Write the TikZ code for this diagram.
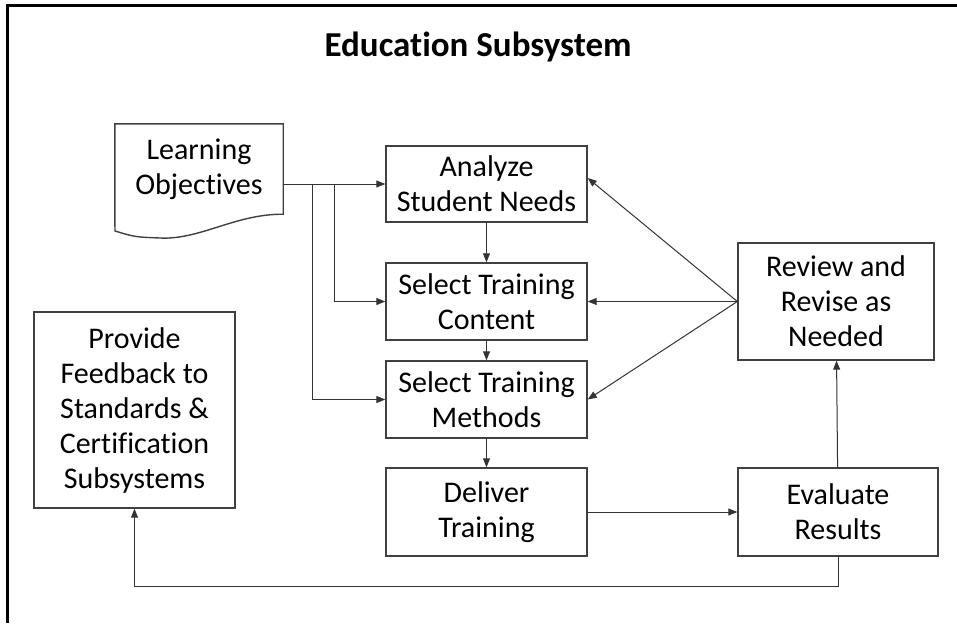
\documentclass[tikz,border=0pt]{standalone}
\usepackage{fontspec}
\setmainfont{Carlito}[Ligatures=CommonOff]
\usetikzlibrary{arrows.meta}

\begin{document}
\begin{tikzpicture}[x=1pt,y=-1pt,
    >={Triangle[length=9pt,width=7pt]},
    box/.style={draw=black!75,line width=1.4pt,inner sep=0pt,align=center,
        font=\fontsize{30}{35}\selectfont},
    link/.style={->,draw=black!80,line width=1pt}]
\useasboundingbox (0,0) rectangle (957,623);
\draw[line width=3pt] (7,623)--(7,6)--(957,6);
\node (title) at (478,47) {\fontsize{35}{42}\selectfont\bfseries Education Subsystem};

% document shape
\node[inner sep=0pt,minimum width=168pt,minimum height=90pt,align=center,
    font=\fontsize{30}{35}\selectfont] (lo) at (199,169) {Learning\\Objectives};
\draw[black!75,line width=1.4pt] (lo.south west)--(lo.north west)--(lo.north east)--(lo.south east)
    .. controls (235,214) and (200,240) .. (160,238)
    .. controls (135,237) .. (115,231) -- (lo.south west);

\node[box,minimum width=201pt,minimum height=76pt] (ana) at (486.5,184) {Analyze\\Student Needs};
\node[box,minimum width=201pt,minimum height=77pt] (con) at (486.5,301.5) {Select Training\\Content};
\node[box,minimum width=201pt,minimum height=77pt] (met) at (486.5,399.5) {Select Training\\Methods};
\node[box,minimum width=201pt,minimum height=88pt] (del) at (486.5,512) {Deliver\\Training};
\node[box,minimum width=196pt,minimum height=117pt] (rev) at (836,301.5) {Review and\\Revise as\\Needed};
\node[box,minimum width=200pt,minimum height=88pt] (eva) at (838,512) {Evaluate\\Results};
\node[box,minimum width=201pt,minimum height=196pt] (fb) at (134.5,410) {Provide\\Feedback to\\Standards \&\\Certification\\Subsystems};

\coordinate (j1) at (312,184);
\coordinate (j2) at (334,184);
\draw[link] (lo.east |- ana.west)--(ana.west);
\draw[link] (j2) |- (con.west);
\draw[link] (j1) |- (met.west);
\draw[link] (ana)--(con);
\draw[link] (con)--(met);
\draw[link] (met)--(del);
\draw[link] (del)--(eva);
\draw[link] (eva)--(rev);
\draw[link] (rev.west)--([yshift=6pt]ana.east);
\draw[link] (rev.west)--(con.east);
\draw[link] (rev.west)--(met.east);
\draw[link] (eva.south)--++(0,30) -| (fb.south);
\end{tikzpicture}
\end{document}
